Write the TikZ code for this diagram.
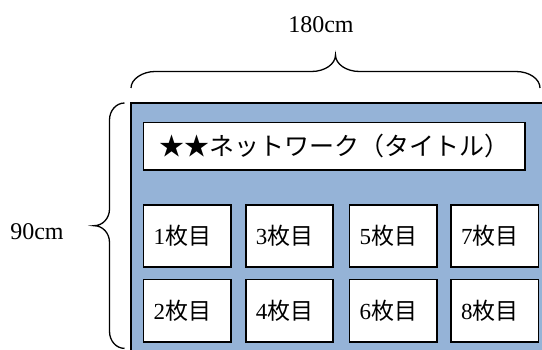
\documentclass[tikz,border=0pt]{standalone}
\usepackage{fontspec}
\setmainfont{Liberation Serif}
\newfontfamily\jp{Noto Sans CJK JP}
\definecolor{panelblue}{HTML}{95B3D7}
\begin{document}
\begin{tikzpicture}[x=1pt,y=-1pt,
  panel/.style={draw=black, line width=1.6pt, fill=panelblue},
  sheet/.style={draw=black, line width=1.6pt, fill=white, minimum width=87.5pt,
    minimum height=62.3pt, text width=67.5pt, inner xsep=10pt, inner ysep=0pt,
    align=left, font=\fontsize{23}{23}\selectfont},
  titlebox/.style={draw=black, line width=1.6pt, fill=white, minimum width=381.2pt,
    minimum height=47.6pt, inner sep=0pt, font=\fontsize{25}{25}\selectfont\jp},
  dim/.style={font=\fontsize{24}{24}\selectfont},
  bracepath/.style={draw=black, line width=1.3pt}
]
\useasboundingbox (0,0) rectangle (542,350);
\begin{scope}
\clip (0,0) rectangle (542,350);
% panel
\path[panel] (131,103) rectangle (570,380);
% title
\node[titlebox] (title) at (334.1,146.5) {★★ネットワーク（タイトル）};
% sheets
\node[sheet] (s1) at (187.25,236.15) {1{\jp 枚目}};
\node[sheet] (s2) at (187.25,310.8) {2{\jp 枚目}};
\node[sheet] (s3) at (289.5,236.15) {3{\jp 枚目}};
\node[sheet] (s4) at (289.5,310.8) {4{\jp 枚目}};
\node[sheet] (s5) at (393.3,236.15) {5{\jp 枚目}};
\node[sheet] (s6) at (393.3,310.8) {6{\jp 枚目}};
\node[sheet] (s7) at (494.85,236.15) {7{\jp 枚目}};
\node[sheet] (s8) at (494.85,310.8) {8{\jp 枚目}};
% top brace
\path[bracepath] (131,88) .. controls (131,78.9) and (142.8,71.5) .. (155,71.5)
  -- (311.5,71.5) .. controls (324.8,71.5) and (335.5,64.1) .. (335.5,55)
  .. controls (335.5,64.1) and (346.2,71.5) .. (359.5,71.5)
  -- (516,71.5) .. controls (529.2,71.5) and (540,78.9) .. (540,88);
% left brace
\path[bracepath] (124.5,103) .. controls (116.2,103) and (109.5,110.6) .. (109.5,120)
  -- (109.5,209) .. controls (109.5,218.2) and (102.8,225.7) .. (94,225.7)
  .. controls (102.8,225.7) and (109.5,233.2) .. (109.5,242.4)
  -- (109.5,331.4) .. controls (109.5,340.8) and (116.2,348.4) .. (124.5,348.4);
\end{scope}
% dimension labels
\node[dim] (w) at (321,25) {180cm};
\node[dim] (h) at (37,232) {90cm};
\end{tikzpicture}
\end{document}
